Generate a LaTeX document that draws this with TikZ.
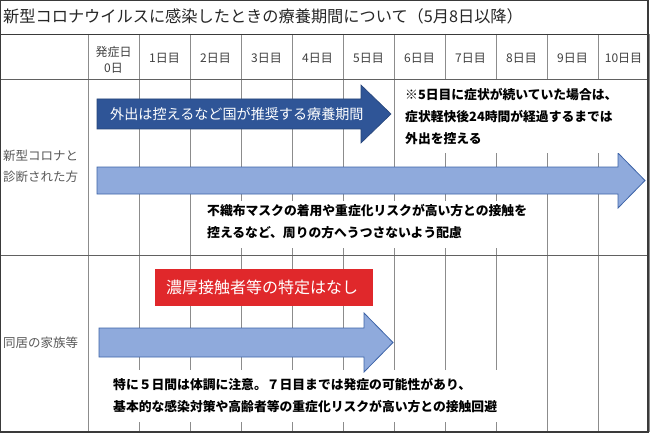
\documentclass[tikz,border=0pt]{standalone}
\usepackage{fontspec}
\setmainfont{Noto Sans CJK JP}
\definecolor{gridgray}{HTML}{8C8C8C}
\definecolor{framegray}{HTML}{3A3A3A}
\definecolor{labelgray}{HTML}{595959}
\definecolor{hdrgray}{HTML}{404040}
\definecolor{lightblue}{HTML}{8FAADC}
\definecolor{arrowedge}{HTML}{3E64A8}
\definecolor{darkblue}{HTML}{2F5597}
\definecolor{redbox}{HTML}{E0282B}
\begin{document}
\begin{tikzpicture}[x=1pt,y=-1pt,
  gridline/.style={draw=gridgray, line width=0.9pt},
  lbl/.style={anchor=west, inner sep=0pt, text=labelgray, font=\fontsize{12.5}{21}\selectfont, align=left},
  hdr/.style={inner sep=0pt, text=hdrgray, font=\fontsize{12}{16}\selectfont, align=center},
  note/.style={anchor=west, inner sep=0pt, text=black, font=\bfseries\fontsize{12.8}{22}\selectfont, align=left},
  lightarrow/.style={fill=lightblue, draw=arrowedge, line width=0.8pt},
  darkarrow/.style={fill=darkblue, draw=darkblue!80!black, line width=0.6pt},
  cover/.style={fill=white, draw=none},
]
\useasboundingbox (0,0) rectangle (650,433);
\fill[white] (0,0) rectangle (650,433);

% grid
\foreach \k in {0,...,11} {
  \draw[gridline] ({88+51*\k},34) -- ({88+51*\k},432);
}
\draw[gridline, draw=framegray] (0,34) -- (648,34);
\draw[gridline, draw=framegray!80] (0,79) -- (648,79);
\draw[gridline, draw=framegray!80] (0,255) -- (648,255);

% title
\node[anchor=west, inner sep=0pt, text=black!85, font=\fontsize{16.2}{18}\selectfont] (title) at (3,16.5)
  {新型コロナウイルスに感染したときの療養期間について（5月8日以降）};

% header
\node[hdr] (d0) at (113.5,60) {発症日\\0日};
\foreach \k in {1,...,10} {
  \node[hdr] (d\k) at ({88+51*\k+25.5},58) {\k 日目};
}

% row labels
\node[lbl] (rowA) at (3,166.5) {新型コロナと\\診断された方};
\node[lbl] (rowB) at (3,343) {同居の家族等};

% arrows row 1
\draw[darkarrow] (97,99) -- (361,99) -- (361,85) -- (391,114) -- (361,143) -- (361,129) -- (97,129) -- cycle;
\draw[lightarrow] (97,167) -- (618,167) -- (618,153) -- (645,180.5) -- (618,208) -- (618,194) -- (97,194) -- cycle;
\node[anchor=west, inner sep=0pt, text=white, font=\fontsize{14.1}{16}\selectfont] (stay) at (110,114)
  {外出は控えるなど国が推奨する療養期間};

% white covers for notes
\fill[cover] (399,80) rectangle (646,153);
\fill[cover] (195,201) rectangle (540,248);
\fill[cover] (105,370) rectangle (540,422);

\node[note] (noteA) at (405,116.7) {※5日目に症状が続いていた場合は、\\症状軽快後24時間が経過するまでは\\外出を控える};
\node[note] (noteB) at (207,221.5) {不織布マスクの着用や重症化リスクが高い方との接触を\\控えるなど、周りの方へうつさないよう配慮};

% row 2
\node[anchor=north west, fill=redbox, inner sep=0pt, minimum width=218pt, minimum height=37pt] (redb) at (155,269) {};
\node[anchor=west, inner sep=0pt, text=white, font=\fontsize{16}{18}\selectfont] (redt) at (166,287.5) {濃厚接触者等の特定はなし};
\draw[lightarrow] (99,328) -- (364,328) -- (364,313) -- (393,342.5) -- (364,372) -- (364,357) -- (99,357) -- cycle;
\node[note] (noteC) at (113,395.5) {特に５日間は体調に注意。７日目までは発症の可能性があり、\\基本的な感染対策や高齢者等の重症化リスクが高い方との接触回避};

% outer frame
\draw[draw=framegray, line width=1.2pt] (0.6,0.6) rectangle (648,432);
\end{tikzpicture}
\end{document}
